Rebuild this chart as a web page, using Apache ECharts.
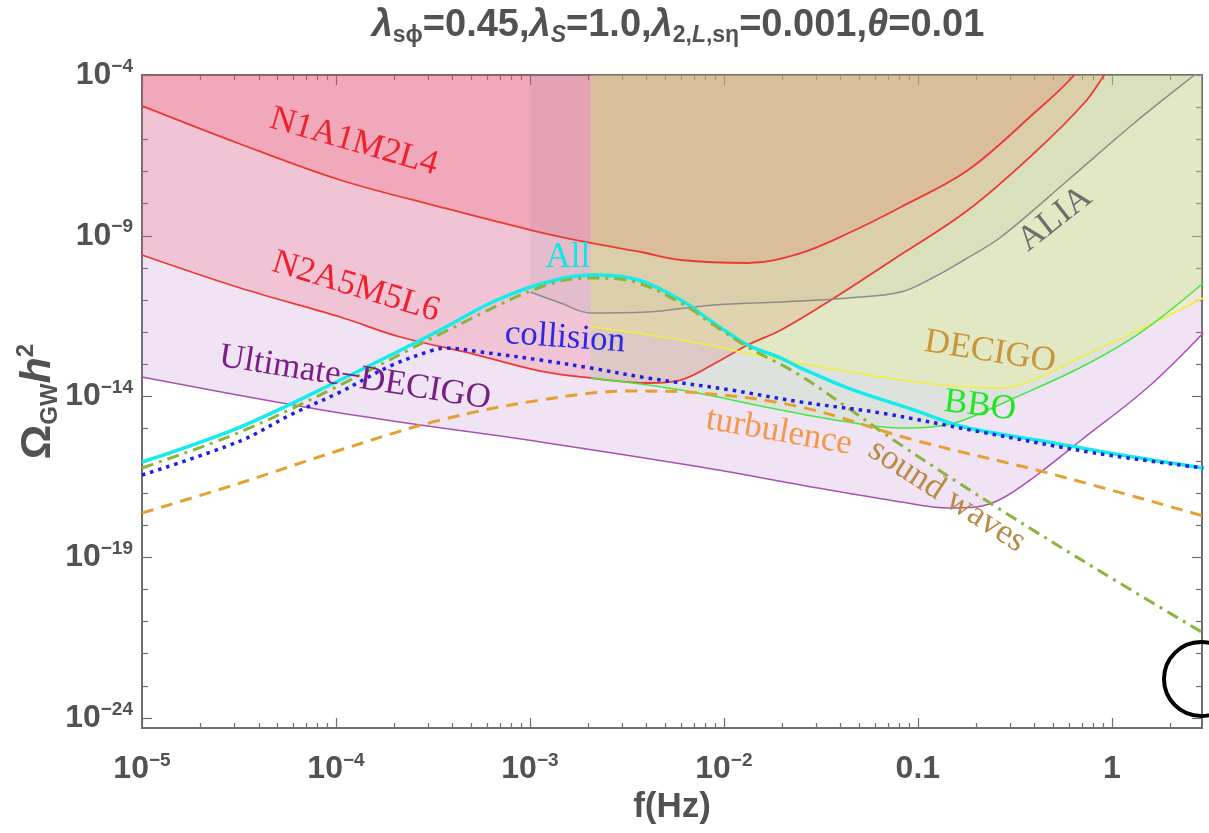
<!DOCTYPE html>
<html>
<head>
<meta charset="utf-8">
<script src="https://cdn.jsdelivr.net/npm/echarts@6/dist/echarts.min.js"></script>
<style>
  html, body { margin: 0; padding: 0; background: #ffffff; }
  #chart { width: 1209px; height: 833px; }
</style>
</head>
<body>
<div id="chart"></div>
<script>
// Every pair is [log10 f / Hz, log10 Ω_GW h^2].

// Detector sensitivity curves (regions above each curve are filled)
const n1a1m2l4 = [[-5,-4.96],[-4.494,-6.146],[-3.978,-7.266],[-3.462,-8.106],[-2.997,-8.821],[-2.687,-9.225],[-2.429,-9.505],[-2.222,-9.754],[-1.877,-9.848],[-1.603,-9.537],[-1.345,-8.883],[-1.087,-8.106],[-0.741,-6.955],[-0.4,-5.182],[-0.194,-4.0],[-0.08,-2.91]];
const n2a5m5l6 = [[-5,-9.599],[-4.494,-10.625],[-3.978,-11.527],[-3.668,-12.149],[-3.291,-12.678],[-2.945,-13.207],[-2.687,-13.425],[-2.393,-13.58],[-2.222,-13.487],[-2.052,-12.989],[-1.877,-12.398],[-1.706,-11.932],[-1.448,-10.998],[-1.138,-9.785],[-0.741,-8.199],[-0.4,-6.426],[-0.142,-4.871],[-0.039,-4.0],[0.049,-3.22]];
const ultimateDecigo = [[-5,-13.393],[-3.978,-14.513],[-2.945,-15.415],[-2.119,-16.193],[-1.603,-16.753],[-1.087,-17.281],[-0.844,-17.468],[-0.7,-17.437],[-0.571,-17.188],[-0.4,-16.504],[-0.157,-15.353],[0.188,-13.705],[0.472,-12.025]];
const alia = [[-2.997,-10.75],[-2.842,-11.092],[-2.687,-11.403],[-2.393,-11.372],[-2.052,-11.154],[-1.706,-11.061],[-1.36,-10.936],[-1.087,-10.75],[-0.916,-10.283],[-0.762,-9.754],[-0.571,-9.039],[-0.225,-7.266],[0.116,-5.493],[0.426,-4.0],[0.514,-3.6]];
const decigo = [[-2.687,-11.838],[-2.222,-12.243],[-1.706,-12.865],[-1.19,-13.393],[-0.829,-13.673],[-0.571,-13.736],[-0.416,-13.518],[-0.157,-12.771],[0.152,-11.9],[0.472,-10.936]];
const bbo = [[-2.687,-13.425],[-2.222,-13.798],[-1.706,-14.42],[-1.36,-14.793],[-1.087,-14.98],[-0.932,-14.949],[-0.777,-14.762],[-0.503,-14.047],[-0.157,-13.082],[0.152,-11.994],[0.472,-10.47]];

// Gravitational-wave spectra
const allSources = [[-5,-16.037],[-4.494,-14.949],[-3.978,-13.487],[-3.462,-11.932],[-3.203,-11.092],[-2.945,-10.501],[-2.687,-10.221],[-2.481,-10.314],[-2.222,-10.998],[-2.052,-11.714],[-1.877,-12.398],[-1.706,-12.803],[-1.603,-13.114],[-1.36,-13.736],[-1.02,-14.42],[-0.762,-14.949],[-0.328,-15.415],[0.049,-15.82],[0.472,-16.224]];
const collision = [[-5,-16.442],[-4.494,-15.384],[-4.236,-14.575],[-3.978,-13.86],[-3.72,-13.051],[-3.498,-12.554],[-3.436,-12.491],[-3.255,-12.616],[-2.945,-12.865],[-2.687,-13.114],[-2.393,-13.425],[-1.964,-13.798],[-1.603,-14.171],[-1.19,-14.513],[-0.674,-15.104],[-0.087,-15.757],[0.472,-16.224]];
const turbulence = [[-5,-17.624],[-4.494,-16.69],[-3.978,-15.664],[-3.462,-14.731],[-2.945,-14.109],[-2.481,-13.829],[-2.119,-13.891],[-1.603,-14.327],[-1.02,-15.353],[-0.328,-16.38],[0.472,-17.717]];
const soundWaves = [[-5,-16.224],[-4.494,-15.104],[-3.978,-13.642],[-3.462,-12.056],[-2.945,-10.594],[-2.687,-10.314],[-2.481,-10.407],[-2.222,-11.092],[-2.052,-11.776],[-1.877,-12.46],[-1.619,-13.3],[-1.345,-14.42],[-1.087,-15.509],[-0.571,-17.53],[-0.054,-19.459],[0.472,-21.356]];

// Axis ranges and tick positions (log10 units)
const xRange = [-5, 0.465];
const yRange = [-24.31, -4];
const xLabelTicks = [-5, -4, -3, -2, -1, 0];
const yLabelTicks = [-24, -19, -14, -9, -4];
const yDecadeTicks = [-24, -23, -22, -21, -20, -19, -18, -17, -16, -15, -14, -13, -12, -11, -10, -9, -8, -7, -6, -5, -4];

// Curve annotations: text, anchor [log10 f, log10 Ω], angle in degrees (clockwise)
const annotations = [
  { text: 'N1A1M2L4', at: [-3.907, -6.084], angle: 16, color: '#f0202c' },
  { text: 'N2A5M5L6', at: [-3.897, -10.594], angle: 17, color: '#f0202c' },
  { text: 'All', at: [-2.804, -9.692], angle: 0, color: '#10e6e6' },
  { text: 'collision', at: [-2.819, -12.18], angle: 4, color: '#2a2ae6' },
  { text: 'Ultimate\u2212DECIGO', at: [-3.902, -13.425], angle: 9, color: '#7a1f86' },
  { text: 'DECIGO', at: [-0.628, -12.616], angle: 9, color: '#c8963a' },
  { text: 'BBO', at: [-0.68, -14.296], angle: 7, color: '#22e622' },
  { text: 'turbulence', at: [-1.716, -15.104], angle: 10, color: '#f5964a' },
  { text: 'sound waves', at: [-0.85, -17.095], angle: 33, color: '#b88c48' },
  { text: 'ALIA', at: [-0.293, -8.479], angle: -38, color: '#6e6e6e' }
];

const xMinorTicks = [];
for (let d = -5; d <= 0; d++) {
  for (let k = 2; k <= 9; k++) {
    const v = d + Math.log10(k);
    if (v < xRange[1]) xMinorTicks.push(v);
  }
}
const yMinorTicks = yDecadeTicks.filter(v => yLabelTicks.indexOf(v) < 0);

const frameColor = '#6e6e6e';
const textColor = '#525252';
const sansFont = '"Liberation Sans", Arial, sans-serif';
const serifFont = '"Liberation Serif", "Times New Roman", serif';

const tickRich = {
  b: { fontSize: 32, fontWeight: 'bold', color: textColor, fontFamily: sansFont, lineHeight: 36 },
  e: { fontSize: 19, fontWeight: 'bold', color: textColor, fontFamily: sansFont, verticalAlign: 'top', lineHeight: 21 }
};
const powerLabel = v => {
  if (v === -1) return '{b|0.1}';
  if (v === 0) return '{b|1}';
  return '{b|10}{e|\u2212' + Math.abs(v) + '}';
};

function xAxisDef(position, ticks, len, withLabels) {
  return {
    type: 'value', gridIndex: 0, position: position, min: xRange[0], max: xRange[1],
    axisLine: { show: true, onZero: false, lineStyle: { color: frameColor, width: 2 } },
    axisTick: { show: true, inside: true, length: len, customValues: ticks, lineStyle: { color: frameColor, width: 1.2 } },
    axisLabel: withLabels ? { show: true, customValues: xLabelTicks, formatter: powerLabel, rich: tickRich, margin: 23 } : { show: false },
    splitLine: { show: false },
    name: withLabels ? 'f(Hz)' : '',
    nameLocation: 'middle', nameGap: 62, nameMoveOverlap: false,
    nameTextStyle: { fontSize: 35, fontWeight: 'bold', color: textColor, fontFamily: sansFont }
  };
}
function yAxisDef(position, ticks, len, withLabels) {
  return {
    type: 'value', gridIndex: 0, position: position, min: yRange[0], max: yRange[1],
    axisLine: { show: true, onZero: false, lineStyle: { color: frameColor, width: 2 } },
    axisTick: { show: true, inside: true, length: len, customValues: ticks, lineStyle: { color: frameColor, width: 1.2 } },
    axisLabel: withLabels ? { show: true, customValues: yLabelTicks, formatter: powerLabel, rich: tickRich, margin: 9 } : { show: false },
    splitLine: { show: false },
    name: withLabels ? '{o|\u03A9}{s|GW}{h|h}{p|2}' : '',
    nameLocation: 'middle', nameGap: 80, nameRotate: 90, nameMoveOverlap: false,
    nameTextStyle: {
      rich: {
        o: { fontSize: 43, fontWeight: 'bold', color: textColor, fontFamily: sansFont, lineHeight: 48 },
        s: { fontSize: 24, fontWeight: 'bold', color: textColor, fontFamily: sansFont, verticalAlign: 'bottom', lineHeight: 24 },
        h: { fontSize: 43, fontWeight: 'bold', fontStyle: 'italic', color: textColor, fontFamily: sansFont, lineHeight: 48 },
        p: { fontSize: 24, fontWeight: 'bold', color: textColor, fontFamily: sansFont, verticalAlign: 'top', lineHeight: 24 }
      }
    }
  };
}

function fillSeries(name, data, color) {
  return {
    name: name + ' region', type: 'line', data: data, xAxisIndex: 0, yAxisIndex: 0,
    showSymbol: false, symbol: 'none', smooth: 0.35, silent: true, z: 1,
    lineStyle: { width: 0, opacity: 0 },
    areaStyle: { color: color, origin: 'end', opacity: 1 }
  };
}
function curveSeries(name, data, color, width, dash, z) {
  return {
    name: name, type: 'line', data: data, xAxisIndex: 0, yAxisIndex: 0,
    showSymbol: false, symbol: 'none', smooth: 0.35, silent: true, z: z,
    lineStyle: { color: color, width: width, type: dash || 'solid', cap: 'butt' }
  };
}

const chart = echarts.init(document.getElementById('chart'), null, { renderer: 'canvas' });

const titleRich = {
  n: { fontSize: 38, fontWeight: 'bold', color: textColor, fontFamily: sansFont, lineHeight: 42 },
  l: { fontSize: 38, fontWeight: 'bold', fontStyle: 'italic', color: textColor, fontFamily: sansFont, lineHeight: 42 },
  s: { fontSize: 23, fontWeight: 'bold', color: textColor, fontFamily: sansFont, verticalAlign: 'bottom', lineHeight: 20 },
  si: { fontSize: 23, fontWeight: 'bold', fontStyle: 'italic', color: textColor, fontFamily: sansFont, verticalAlign: 'bottom', lineHeight: 20 }
};

chart.setOption({
  animation: false,
  backgroundColor: '#ffffff',
  title: {
    text: '{l|\u03BB}{s|s\u03D5}{n|=0.45,}{l|\u03BB}{si|S}{n|=1.0,}{l|\u03BB}{s|2,}{si|L}{s|,s\u03B7}{n|=0.001,}{l|\u03B8}{n|=0.01}',
    left: 673, top: 0, textAlign: 'center',
    textStyle: { rich: titleRich }
  },
  grid: { left: 142, right: 7, top: 75, bottom: 105, containLabel: false, outerBoundsMode: 'none' },
  xAxis: [
    xAxisDef('bottom', xLabelTicks, 10, true),
    xAxisDef('bottom', xMinorTicks, 5, false),
    xAxisDef('top', xLabelTicks, 10, false),
    xAxisDef('top', xMinorTicks, 5, false)
  ],
  yAxis: [
    yAxisDef('left', yLabelTicks, 10, true),
    yAxisDef('left', yMinorTicks, 6, false),
    yAxisDef('right', yLabelTicks, 10, false),
    yAxisDef('right', yMinorTicks, 6, false)
  ],
  series: [
    fillSeries('Ultimate-DECIGO', ultimateDecigo, 'rgba(180,120,200,0.2)'),
    fillSeries('N2A5M5L6', n2a5m5l6, 'rgba(240,60,80,0.19)'),
    fillSeries('N1A1M2L4', n1a1m2l4, 'rgba(240,60,80,0.2)'),
    fillSeries('ALIA', alia, 'rgba(128,128,128,0.1)'),
    fillSeries('BBO', bbo, 'rgba(150,220,140,0.2)'),
    fillSeries('DECIGO', decigo, 'rgba(245,255,90,0.2)'),
    curveSeries('Ultimate-DECIGO', ultimateDecigo, '#a652b0', 1.5, null, 3),
    curveSeries('N2A5M5L6', n2a5m5l6, '#ea3a36', 1.8, null, 3),
    curveSeries('N1A1M2L4', n1a1m2l4, '#ea3a36', 1.8, null, 3),
    curveSeries('ALIA', alia, '#8c8c8c', 1.5, null, 3),
    curveSeries('DECIGO', decigo, '#f0f03c', 1.5, null, 3),
    curveSeries('BBO', bbo, '#46e646', 1.5, null, 3),
    curveSeries('All', allSources, '#14ebeb', 3.5, null, 4),
    curveSeries('sound waves', soundWaves, '#8cb43c', 3, [12, 6, 3, 6], 5),
    curveSeries('turbulence', turbulence, '#e6a032', 3, [12, 8], 5),
    curveSeries('collision', collision, '#1e1ee6', 3.5, [3.5, 5], 6)
  ]
});

// Place the curve annotations from their data anchors
const toPx = pt => chart.convertToPixel({ seriesIndex: 0 }, pt);
const graphics = annotations.map(a => {
  const p = toPx(a.at);
  return {
    type: 'text', x: p[0], y: p[1], rotation: -a.angle * Math.PI / 180, z: 50, silent: true,
    style: { text: a.text, fill: a.color, font: '35px ' + serifFont, align: 'center', verticalAlign: 'middle' }
  };
});
graphics.push({
  type: 'circle', shape: { cx: 1201, cy: 679, r: 37 }, z: 60, silent: true,
  style: { fill: 'rgba(0,0,0,0)', stroke: '#000000', lineWidth: 4 }
});
chart.setOption({ graphic: graphics });
</script>
</body>
</html>
